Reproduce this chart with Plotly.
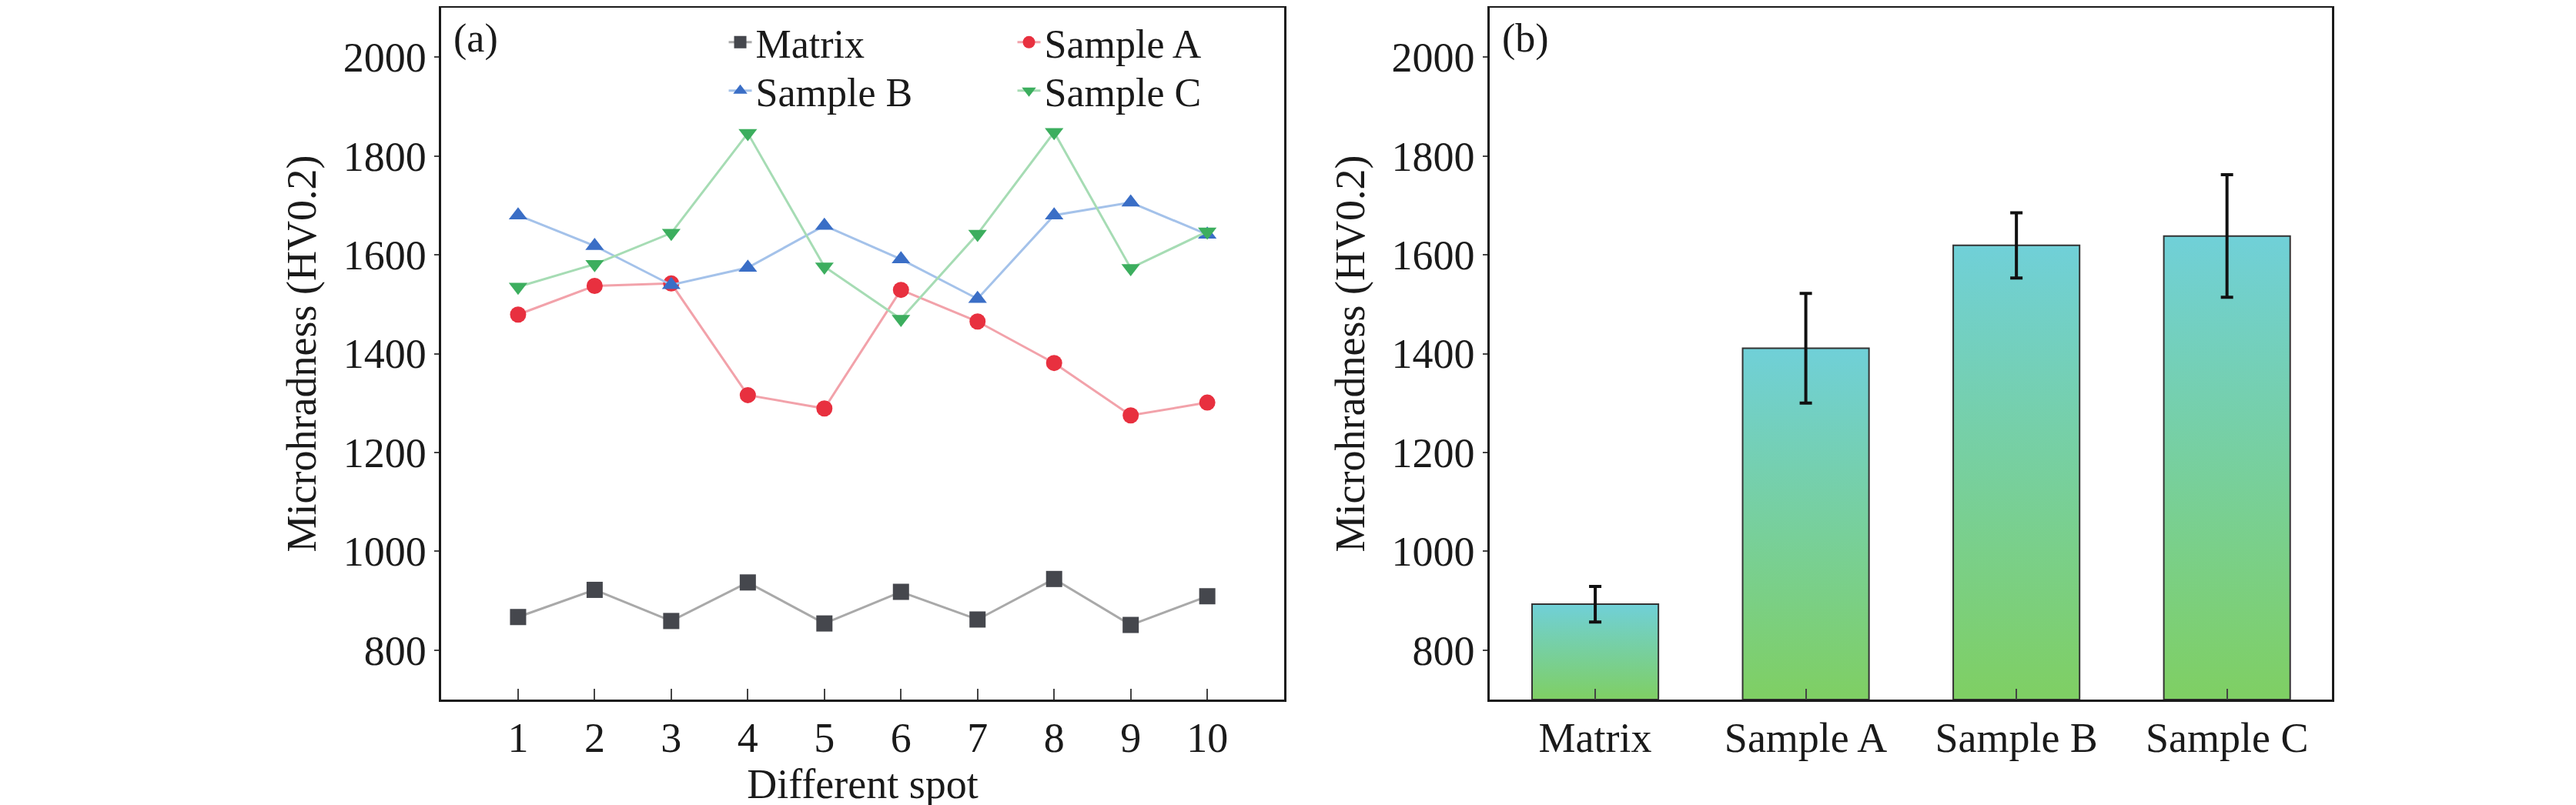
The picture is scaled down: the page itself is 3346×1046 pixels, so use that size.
import plotly.graph_objects as go

# === data ===
spots = [1, 2, 3, 4, 5, 6, 7, 8, 9, 10]
matrix = [867, 922, 859, 937, 854, 918, 862, 944, 851, 909]
sample_a = [1479, 1537, 1542, 1316, 1289, 1529, 1465, 1381, 1275, 1301]
sample_b = [1680, 1618, 1539, 1574, 1659, 1591, 1511, 1680, 1706, 1641]
sample_c = [1535, 1581, 1644, 1846, 1576, 1470, 1642, 1848, 1573, 1647]

groups = ["Matrix", "Sample A", "Sample B", "Sample C"]
means = [893, 1411, 1619, 1638]
errs = [36, 111, 66, 124]

FONT = "Liberation Serif"
y_floor = 700
bar_half = 0.3

fig = go.Figure()

series = [
    ("Matrix", matrix, "square", "#45474d", "#a9a9a9", "legend"),
    ("Sample A", sample_a, "circle", "#e8303f", "#f2a2aa", "legend"),
    ("Sample B", sample_b, "triangle-up", "#3a6ec6", "#a4c2ea", "legend2"),
    ("Sample C", sample_c, "triangle-down", "#3cae5e", "#a6dcb4", "legend2"),
]
for name, vals, sym, mcol, lcol, leg in series:
    fig.add_trace(go.Scatter(
        x=spots, y=vals, name=name, mode="lines+markers",
        line=dict(color=lcol, width=3),
        marker=dict(symbol=sym, size=21, color=mcol),
        legend=leg, xaxis="x", yaxis="y",
    ))

# gradient bars drawn as filled polygons
for i, (g, v) in enumerate(zip(groups, means)):
    fig.add_trace(go.Scatter(
        x=[i - bar_half, i - bar_half, i + bar_half, i + bar_half, i - bar_half],
        y=[y_floor, v, v, y_floor, y_floor],
        fill="toself", mode="lines",
        line=dict(color="#333333", width=2),
        fillgradient=dict(type="vertical",
                          colorscale=[[0, "#7fcf63"], [1, "#70d0d8"]]),
        showlegend=False, xaxis="x2", yaxis="y2", hoverinfo="skip",
    ))

fig.add_trace(go.Scatter(
    x=list(range(len(groups))), y=means, mode="markers",
    marker=dict(size=1, color="rgba(0,0,0,0)"),
    error_y=dict(type="data", array=errs, color="#111111", thickness=4, width=8),
    showlegend=False, xaxis="x2", yaxis="y2",
))

axis_common = dict(showline=True, linecolor="#1a1a1a", linewidth=3, mirror=True,
                   showgrid=False, zeroline=False,
                   tickfont=dict(family=FONT, size=54, color="#1a1a1a"))
title_font = dict(family=FONT, size=54)

fig.update_layout(
    width=3346, height=1046,
    paper_bgcolor="white", plot_bgcolor="white",
    margin=dict(l=0, r=0, t=2, b=145),
    font=dict(family=FONT, color="#1a1a1a"),
    xaxis=dict(domain=[0.169, 0.496], range=[0, 11], tickvals=spots,
               ticks="inside", ticklen=14, tickwidth=2, anchor="y",
               title=dict(text="Different spot", font=title_font, standoff=10),
               **axis_common),
    yaxis=dict(range=[700, 2100], tickvals=[800, 1000, 1200, 1400, 1600, 1800, 2000],
               ticks="outside", ticklen=6, tickwidth=2, anchor="x",
               title=dict(text="Microhradness (HV0.2)", font=title_font, standoff=18),
               **axis_common),
    xaxis2=dict(domain=[0.576, 0.903], range=[-0.5, 3.5],
                tickvals=list(range(len(groups))), ticktext=groups,
                ticks="inside", ticklen=14, tickwidth=2, anchor="y2",
                **axis_common),
    yaxis2=dict(range=[700, 2100], tickvals=[800, 1000, 1200, 1400, 1600, 1800, 2000],
                ticks="outside", ticklen=6, tickwidth=2, anchor="x2",
                title=dict(text="Microhradness (HV0.2)", font=title_font, standoff=18),
                **axis_common),
    legend=dict(orientation="h", x=0.279, y=0.995, xanchor="left", yanchor="top",
                entrywidth=330, bgcolor="rgba(0,0,0,0)",
                font=dict(family=FONT, size=52)),
    legend2=dict(orientation="h", x=0.279, y=0.925, xanchor="left", yanchor="top",
                 entrywidth=330, bgcolor="rgba(0,0,0,0)",
                 font=dict(family=FONT, size=52)),
    annotations=[
        dict(text="(a)", x=0.173, y=0.99, xref="paper", yref="paper",
             xanchor="left", yanchor="top", showarrow=False,
             font=dict(family=FONT, size=52)),
        dict(text="(b)", x=0.58, y=0.99, xref="paper", yref="paper",
             xanchor="left", yanchor="top", showarrow=False,
             font=dict(family=FONT, size=52)),
    ],
)

fig.write_html("out.html")
